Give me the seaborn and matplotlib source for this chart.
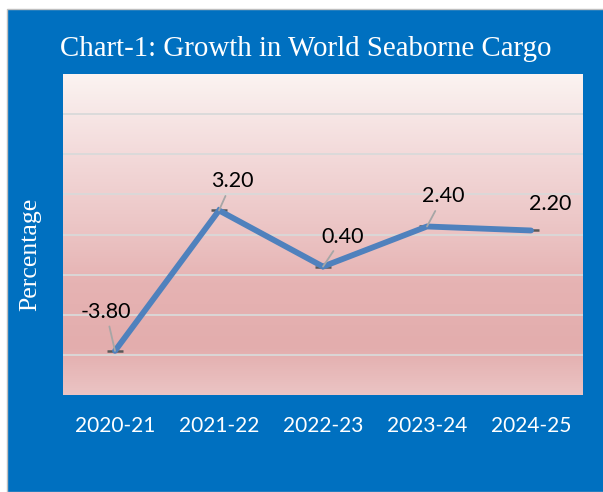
import numpy as np
import pandas as pd
import matplotlib
matplotlib.use("Agg")
import matplotlib.pyplot as plt
from matplotlib.colors import LinearSegmentedColormap
from matplotlib.patches import Rectangle
import seaborn as sns

years = ["2020-21", "2021-22", "2022-23", "2023-24", "2024-25"]
growth = [-3.80, 3.20, 0.40, 2.40, 2.20]
labels = ["-3.80", "3.20", "0.40", "2.40", "2.20"]
title = "Chart-1: Growth in World Seaborne Cargo"
ylabel = "Percentage"

df = pd.DataFrame({"year": years, "growth": growth, "pos": range(len(years))})

sns.set_theme(style="white")
plt.rcParams["font.family"] = ["Lato", "DejaVu Sans"]

BLUE = "#0070C0"
fig = plt.figure(figsize=(6.03, 4.92), dpi=100, facecolor="white")
fig.patches.append(Rectangle((7 / 603, 0), 1, 1 - 9 / 492, transform=fig.transFigure,
                             facecolor=BLUE, edgecolor="#BFBFBF", lw=1.0, zorder=-10))

ax = fig.add_axes([63 / 603, 97 / 492, 520 / 603, 321 / 492])
ax.set_xlim(-0.5, 4.5)
ax.set_ylim(-6, 10)

# gradient background
cmap = LinearSegmentedColormap.from_list(
    "bg", [(0.0, "#FBF3F1"), (0.25, "#F3DADA"), (0.5, "#EBC3C3"),
           (0.65, "#E6B3B3"), (0.85, "#E3ADAD"), (1.0, "#EBC4C4")])
grad = np.linspace(0, 1, 256).reshape(-1, 1)
ax.imshow(grad, aspect="auto", cmap=cmap, extent=[0, 1, 0, 1],
          transform=ax.transAxes, zorder=0, origin="upper")

ax.set_yticks(np.arange(-4, 10, 2))
ax.yaxis.grid(True, color="#D9D9D9", lw=1.3, zorder=1)
ax.set_axisbelow(True)
ax.tick_params(axis="y", left=False, labelleft=False)
for s in ax.spines.values():
    s.set_visible(False)

# caps at points
ax.scatter(df["pos"], df["growth"], marker="_", s=130, color="#595959",
           linewidths=1.8, zorder=3)
sns.lineplot(data=df, x="pos", y="growth", ax=ax, color="#4F81BD", lw=4.2,
             zorder=4, solid_joinstyle="miter")

offsets = [(-9, 39), (13, 29), (20, 30), (16, 30), (19, 26)]
leaders = [True, True, True, True, False]
for i, (v, lab) in enumerate(zip(growth, labels)):
    dx, dy = offsets[i]
    kw = {}
    if leaders[i]:
        kw["arrowprops"] = dict(arrowstyle="-", color="#A6A6A6", lw=1.3,
                                shrinkA=1, shrinkB=0)
    ax.annotate(lab, xy=(i, v), xytext=(dx, dy), textcoords="offset pixels",
                ha="center", va="center", fontsize=15.5, color="black",
                family=["Lato", "DejaVu Sans"], zorder=5, **kw)

ax.set_xticks(range(len(years)))
ax.set_xticklabels(years, color="white", fontsize=15)
ax.tick_params(axis="x", bottom=False, pad=9)
ax.set_xlabel("")
ax.set_ylabel("")

fig.text(306 / 603, 1 - 49 / 492, title, ha="center", va="center", color="white",
         fontsize=20.8, family=["Liberation Serif", "DejaVu Serif"])
fig.text(30 / 603, 1 - 254 / 492, ylabel, ha="center", va="center", color="white",
         fontsize=18.5, rotation=90, family=["Liberation Serif", "DejaVu Serif"])

fig.savefig("out.png", dpi=100, facecolor=fig.get_facecolor())
